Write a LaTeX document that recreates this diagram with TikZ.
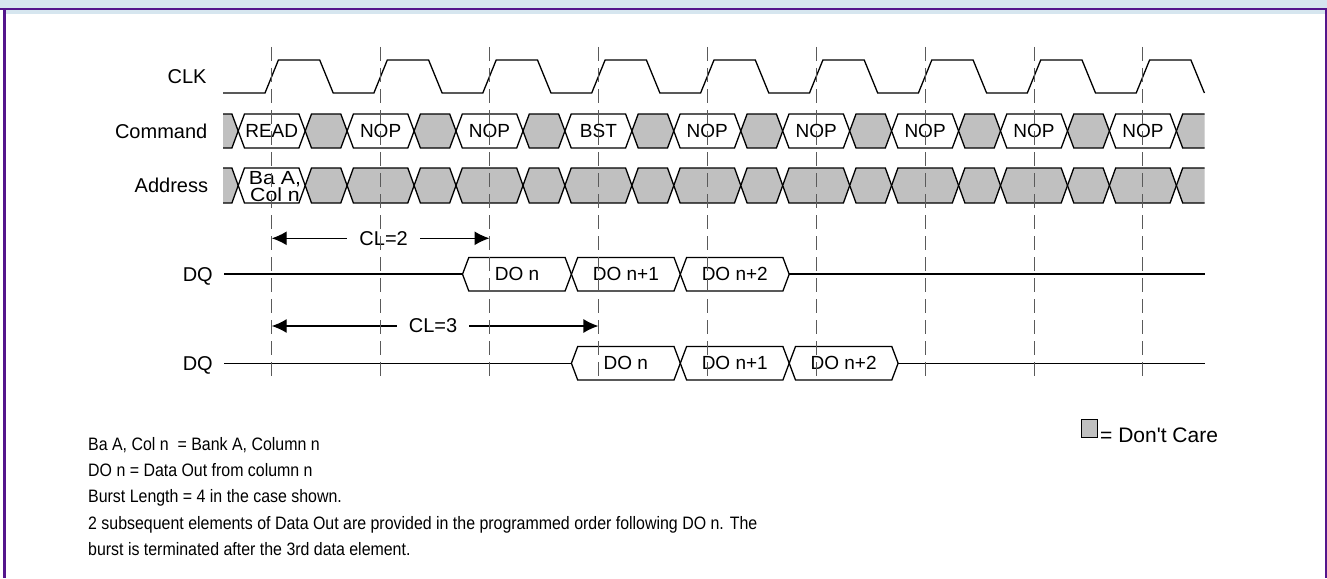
\documentclass[tikz,border=0pt]{standalone}
\usepackage{fontspec}
\setmainfont{Liberation Sans}
\newfontfamily\notefont[FakeStretch=0.885]{Liberation Sans}
\newfontfamily\addrfont[FakeStretch=1.12]{Liberation Sans}
\usetikzlibrary{arrows.meta, calc}
\definecolor{framepurple}{RGB}{84, 22, 140}
\definecolor{headblue}{RGB}{214, 230, 239}
\definecolor{dontcare}{RGB}{192, 192, 192}
\definecolor{gridgray}{RGB}{90, 90, 90}

% clock edge of cycle 0 and clock period
\newcommand{\tzero}{271.7}
\newcommand{\tperiod}{108.9}
% one bus window: style, left point, right point, top, bottom
\newcommand{\buswin}[5]{%
  \path[#1] (#2,{(#4+#5)/2}) -- (#2+6.3,#4) -- (#3-6.3,#4) -- (#3,{(#4+#5)/2})
    -- (#3-6.3,#5) -- (#2+6.3,#5) -- cycle;}

\begin{document}
\begin{tikzpicture}[
    x=1pt, y=-1pt,
    wave/.style={line width=1.3pt, draw=black, line join=miter},
    valid/.style={wave, fill=white},
    care/.style={wave, fill=dontcare},
    grid/.style={line width=0.9pt, gridgray, dash pattern=on 14pt off 7pt},
    siglabel/.style={anchor=base east, font=\fontsize{20}{24}\selectfont, inner sep=0pt},
    buslabel/.style={font=\fontsize{19}{22}\selectfont, inner sep=0pt},
    notes/.style={anchor=base west, font=\notefont\fontsize{18}{26}\selectfont, inner sep=0pt},
    dim/.style={line width=1.3pt, {Latex[length=15pt,width=14pt]}-{Latex[length=15pt,width=14pt]}},
    dimlabel/.style={fill=white, inner xsep=12pt, inner ysep=1pt, font=\fontsize{20}{24}\selectfont}
]
\useasboundingbox (0,0) rectangle (1327,578);
\fill[white] (0,0) rectangle (1327,578);

% Frame
\fill[headblue] (0,0) rectangle (1327,9);
\fill[headblue] (4.5,9) rectangle (1326,14);
\draw[framepurple, line width=2.2pt] (0,9) -- (1327,9);
\draw[framepurple, line width=2.2pt] (4.5,9) -- (4.5,578);
\draw[framepurple, line width=2.2pt] (1326,9) -- (1326,578);

% Clock edges
\foreach \k in {0,...,8}
  \coordinate (edge\k) at ({\tzero+\k*\tperiod},0);

% Signal names
\node[siglabel] (clk) at (206.7,83) {CLK};
\node[siglabel] (cmd) at (207.5,138.2) {Command};
\node[siglabel] (addr) at (208.3,192.7) {Address};
\node[siglabel] (dq1) at (213,281.2) {DQ};
\node[siglabel] (dq2) at (213,370.5) {DQ};

% CLK
\draw[wave] (223,93) foreach \k in {0,...,8} {
  -- ({\tzero+\k*\tperiod-6.7},93) -- ({\tzero+\k*\tperiod+6.7},60)
  -- ({\tzero+\k*\tperiod+48},60) -- ({\tzero+\k*\tperiod+61.5},93) };

% Command and Address buses
\begin{scope}
\clip (223,100) rectangle (1204.5,220);
\foreach \cmdname [count=\k from 0] in {READ,NOP,NOP,BST,NOP,NOP,NOP,NOP,NOP} {
  \pgfmathsetmacro\xk{\tzero+\k*\tperiod}
  \buswin{care}{\xk-\tperiod+33.5}{\xk-33.5}{114}{148}
  \buswin{valid}{\xk-33.5}{\xk+33.5}{114}{148}
  \node[buslabel] (cmd\k) at (\xk,131) {\cmdname};
  \buswin{care}{\xk-\tperiod+33.5}{\xk-33.5}{168}{203}
  \ifnum\k=0
    \buswin{valid}{\xk-33.5}{\xk+33.5}{168}{203}
  \else
    \buswin{care}{\xk-33.5}{\xk+33.5}{168}{203}
  \fi
}
\buswin{care}{\tzero+8*\tperiod+33.5}{\tzero+9*\tperiod-33.5}{114}{148}
\buswin{care}{\tzero+8*\tperiod+33.5}{\tzero+9*\tperiod-33.5}{168}{203}
\end{scope}
\node[buslabel, font=\addrfont\fontsize{19}{15}\selectfont, align=center] (addr0) at (275,186.5) {Ba A,\\Col n};

% DQ, CL=2
\coordinate (dq1start) at (224,274);
\coordinate (dq1end) at (1205,274);
\draw[wave] (dq1start) -- ({\tzero+2*\tperiod-27},274);
\foreach \dout [count=\j from 0] in {DO n,DO n+1,DO n+2} {
  \pgfmathsetmacro\xa{\tzero+(2+\j)*\tperiod-27}
  \buswin{valid}{\xa}{\xa+\tperiod}{257.5}{291}
  \node[buslabel] (dqa\j) at (\xa+\tperiod/2,274) {\dout};
}
\draw[wave] ({\tzero+5*\tperiod-27},274) -- (dq1end);

% DQ, CL=3
\coordinate (dq2start) at (224,363.3);
\coordinate (dq2end) at (1205,363.3);
\draw[wave] (dq2start) -- ({\tzero+3*\tperiod-27},363.3);
\foreach \dout [count=\j from 0] in {DO n,DO n+1,DO n+2} {
  \pgfmathsetmacro\xa{\tzero+(3+\j)*\tperiod-27}
  \buswin{valid}{\xa}{\xa+\tperiod}{346.5}{380}
  \node[buslabel] (dqb\j) at (\xa+\tperiod/2,363.3) {\dout};
}
\draw[wave] ({\tzero+6*\tperiod-27},363.3) -- (dq2end);

% CAS latency
\coordinate (cl2a) at ($(edge0)+(0,238.3)$);
\coordinate (cl2b) at ($(edge2)+(0,238.3)$);
\coordinate (cl3a) at ($(edge0)+(0,326)$);
\coordinate (cl3b) at ($(edge3)+(0,326)$);
\draw[dim] (cl2a) -- node[dimlabel, pos=0.514] (cl2) {CL=2} (cl2b);
\draw[dim] (cl3a) -- node[dimlabel, pos=0.494] (cl3) {CL=3} (cl3b);

% Clock edge markers
\foreach \k in {0,...,8}
  \draw[grid] ($(edge\k)+(0,47)$) -- ($(edge\k)+(0,383)$);

% Legend
\draw[line width=1pt, fill=dontcare] (1081,419) rectangle (1097,437);
\node[anchor=base west, inner sep=0pt, font=\fontsize{21}{25}\selectfont] (legend) at (1100,442.7) {= Don\textquotesingle t Care};

% Notes
\foreach \line [count=\i from 0] in {%
    {Ba A, Col n\ \ = Bank A, Column n},
    {DO n = Data Out from column n},
    {Burst Length = 4 in the case shown.},
    {2 subsequent elements of Data Out are provided in the programmed order following DO n. The},
    {burst is terminated after the 3rd data element.}}
  \node[notes] (note\i) at (88,{450.7+26.1*\i}) {\line};

\end{tikzpicture}
\end{document}
